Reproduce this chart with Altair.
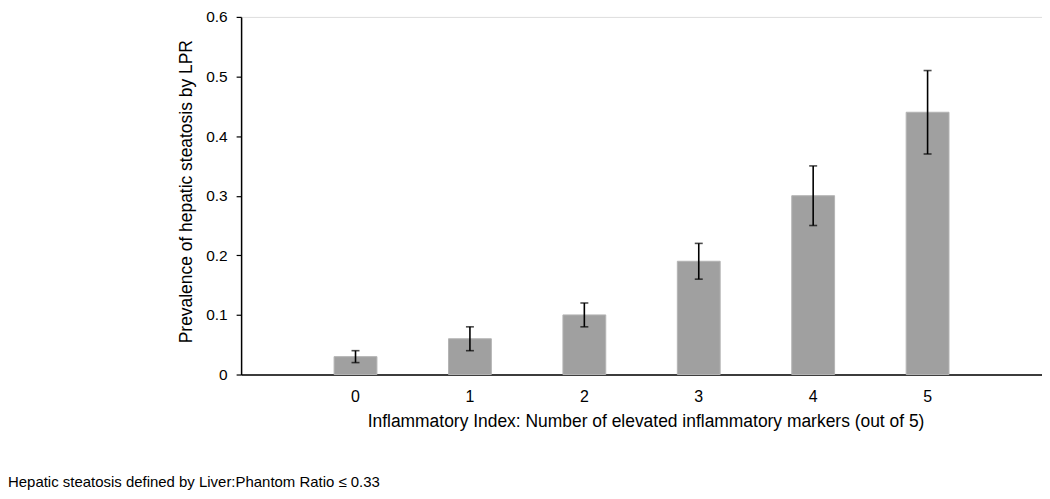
import altair as alt
import pandas as pd

categories = ["0", "1", "2", "3", "4", "5"]
prevalence = [0.03, 0.06, 0.10, 0.19, 0.30, 0.44]
ci_low = [0.02, 0.04, 0.08, 0.16, 0.25, 0.37]
ci_high = [0.04, 0.08, 0.12, 0.22, 0.35, 0.51]
y_ticks = [0, 0.1, 0.2, 0.3, 0.4, 0.5, 0.6]
x_title = "Inflammatory Index: Number of elevated inflammatory markers (out of 5)"
y_title = "Prevalence of hepatic steatosis by LPR"
footnote = "Hepatic steatosis defined by Liver:Phantom Ratio \u2264 0.33"

FONT = "Liberation Sans"
W, H = 804, 359

df = pd.DataFrame({"cat": categories, "p": prevalence, "lo": ci_low, "hi": ci_high})
note_df = pd.DataFrame({"note": [footnote]})

x = alt.X(
    "cat:N",
    sort=categories,
    scale=alt.Scale(paddingInner=0, paddingOuter=0.5),
    axis=alt.Axis(
        title=x_title,
        labelAngle=0,
        ticks=False,
        tickSize=0,
        labelPadding=14,
        labelFontSize=16,
        labelColor="black",
        labelFont=FONT,
        domainColor="black",
        domainWidth=1.5,
        titleFont=FONT,
        titleFontSize=17.5,
        titleFontWeight="normal",
        titleColor="black",
        titleX=406,
        titleY=47,
        titleBaseline="middle",
        titleAlign="center",
    ),
)

y_scale = alt.Scale(domain=[0, 0.6], nice=False)
y = alt.Y(
    "p:Q",
    scale=y_scale,
    axis=alt.Axis(
        title=y_title,
        values=y_ticks,
        format="~g",
        grid=False,
        tickSize=5,
        tickColor="black",
        tickWidth=1.2,
        labelPadding=9,
        labelFontSize=15.5,
        labelColor="black",
        labelFont=FONT,
        domainColor="black",
        domainWidth=1.5,
        titleFont=FONT,
        titleFontSize=17.5,
        titleFontWeight="normal",
        titleColor="black",
        titleX=-55,
        titleY=175,
        titleBaseline="middle",
        titleAlign="center",
        titleAngle=270,
    ),
)

base = alt.Chart(df)
bars = base.mark_bar(size=43, color="#a0a0a0", stroke="#b4b4b4", strokeWidth=1).encode(x=x, y=y)
rules = base.mark_rule(color="black", strokeWidth=1.6).encode(
    x="cat:N", y=alt.Y("lo:Q", scale=y_scale), y2="hi:Q"
)
cap_hi = base.mark_tick(color="black", size=8, thickness=1.6, orient="horizontal").encode(
    x="cat:N", y=alt.Y("hi:Q", scale=y_scale)
)
cap_lo = base.mark_tick(color="black", size=8, thickness=1.6, orient="horizontal").encode(
    x="cat:N", y=alt.Y("lo:Q", scale=y_scale)
)
note = alt.Chart(note_df).mark_text(
    align="left", baseline="alphabetic", font=FONT, fontSize=15, color="black"
).encode(text="note:N", x=alt.value(-234), y=alt.value(472))

chart = (
    alt.layer(bars, rules, cap_hi, cap_lo, note)
    .properties(
        width=W,
        height=H,
        autosize=alt.AutoSizeParams(type="none"),
        padding={"left": 234, "top": 8, "right": 0, "bottom": 116},
    )
    .configure_view(stroke=None)
    .configure(background="white")
)

chart.save("out.html", embed_options={"renderer": "svg", "actions": False})
